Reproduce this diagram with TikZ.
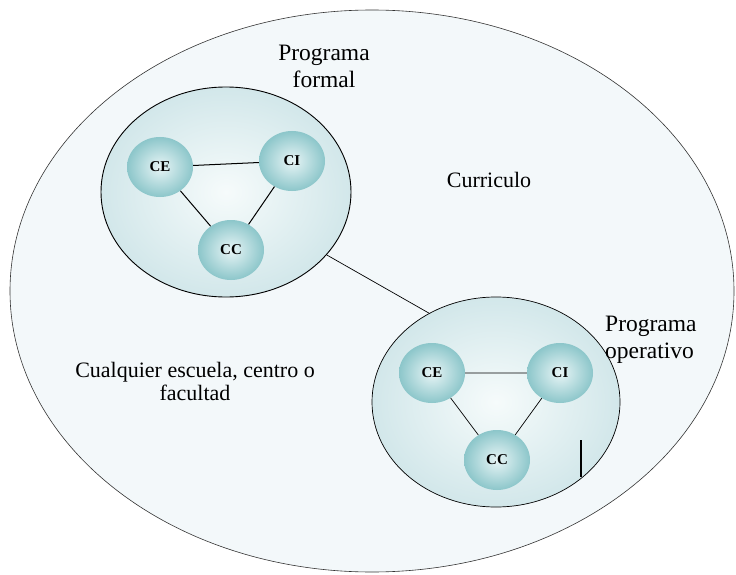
\documentclass[tikz,border=0pt]{standalone}
\usepackage{fontspec}
\setmainfont{Liberation Serif}
\usepackage{xcolor}
\usetikzlibrary{shapes.geometric, positioning}
\definecolor{escuelafill}{HTML}{F3F8FA}
\definecolor{grupoedge}{HTML}{D2E7EA}
\definecolor{grupomid}{HTML}{F6FBFB}
\definecolor{bolaedge}{HTML}{8CC6CA}
\definecolor{bolamid}{HTML}{E8F5F6}

\begin{document}
\begin{tikzpicture}[x=1pt, y=-1pt,
    grupo/.style={ellipse, draw=black, line width=0.9pt, inner sep=0pt,
      minimum width=250pt, minimum height=210pt,
      inner color=grupomid, outer color=grupoedge},
    bola/.style={ellipse, inner sep=0pt, minimum width=66pt, minimum height=60pt,
      inner color=bolamid, outer color=bolaedge,
      font=\fontsize{15}{15}\selectfont\bfseries},
    lbl/.style={inner sep=0pt, font=\fontsize{22}{27}\selectfont}]
  \useasboundingbox (0,0) rectangle (736,575);
  % school / faculty
  \node[ellipse, draw=black!80, line width=0.6pt, fill=escuelafill, inner sep=0pt,
    minimum width=724pt, minimum height=562pt] (escuela) at (372,291) {};
  % the two programmes
  \node[grupo] (formal) at (226,192) {};
  \node[grupo, minimum width=248pt, line width=0.7pt] (operativo) at (496,402) {};
  \draw[line width=0.7pt] (formal.-32) -- (operativo.127);
  % components
  \node[bola] (fCE) at (160,167) {CE};
  \node[bola] (fCI) at (292,161) {CI};
  \node[bola] (fCC) at (231,250) {CC};
  \node[bola] (oCE) at (432,373) {CE};
  \node[bola] (oCI) at (560,373) {CI};
  \node[bola] (oCC) at (497,460) {CC};
  \draw[line width=1pt] (fCE) -- (fCI) (fCE) -- (fCC) (fCI) -- (fCC);
  \draw[line width=0.7pt] (oCE) -- (oCI) (oCE) -- (oCC) (oCI) -- (oCC);
  % stray mark
  \coordinate (barA) at (581,440);
  \coordinate (barB) at (581,477);
  \draw[line width=1.6pt] (barA) -- (barB);
  % labels
  \node[lbl, align=center, font=\fontsize{23.5}{27}\selectfont] (formallbl) at (324,66) {Programa\\formal};
  \node[lbl, align=left, anchor=west, font=\fontsize{23.5}{27}\selectfont] (operlbl) at (605,340) {Programa\\operativo};
  \node[lbl, anchor=base] (curlbl) at (489,187) {Curriculo};
  \node[lbl, align=center, font=\fontsize{22}{23}\selectfont] (escuelalbl) at (195,381)
    {Cualquier escuela, centro o\\facultad};
\end{tikzpicture}
\end{document}
